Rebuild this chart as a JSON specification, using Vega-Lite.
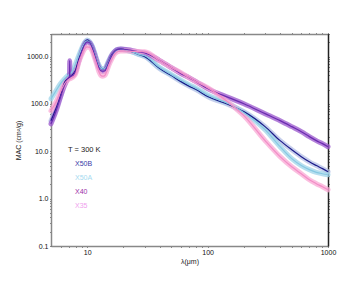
{
  "$schema": "https://vega.github.io/schema/vega-lite/v6.json",
  "width": 277,
  "height": 212,
  "autosize": {"type": "none"},
  "padding": {"left": 51, "top": 34, "right": 28, "bottom": 39},
  "config": {"font": "Liberation Sans", "view": {"stroke": null}},
  "datasets": {
    "mac": [
      {"s":"X50B","l":5,"v":44},{"s":"X50B","l":5.5,"v":80},{"s":"X50B","l":6,"v":150},{"s":"X50B","l":6.5,"v":290},{"s":"X50B","l":7,"v":350},{"s":"X50B","l":7.5,"v":410},{"s":"X50B","l":8,"v":520},{"s":"X50B","l":8.5,"v":900},{"s":"X50B","l":9,"v":1400},{"s":"X50B","l":9.5,"v":1950},{"s":"X50B","l":10,"v":2250},{"s":"X50B","l":10.5,"v":2050},{"s":"X50B","l":11,"v":1650},{"s":"X50B","l":11.5,"v":1200},{"s":"X50B","l":12,"v":850},{"s":"X50B","l":12.5,"v":650},{"s":"X50B","l":13,"v":570},{"s":"X50B","l":13.5,"v":550},{"s":"X50B","l":14,"v":560},{"s":"X50B","l":14.5,"v":650},{"s":"X50B","l":15,"v":800},{"s":"X50B","l":16,"v":1100},{"s":"X50B","l":17,"v":1320},{"s":"X50B","l":18,"v":1430},{"s":"X50B","l":19,"v":1450},{"s":"X50B","l":20,"v":1420},{"s":"X50B","l":22,"v":1330},{"s":"X50B","l":25,"v":1200},{"s":"X50B","l":27.5,"v":1080},{"s":"X50B","l":30,"v":1000},{"s":"X50B","l":40,"v":558},{"s":"X50B","l":50,"v":397},{"s":"X50B","l":60,"v":296},{"s":"X50B","l":70,"v":238},{"s":"X50B","l":80,"v":201},{"s":"X50B","l":100,"v":143},{"s":"X50B","l":150,"v":96.5},{"s":"X50B","l":200,"v":68.8},{"s":"X50B","l":300,"v":33.2},{"s":"X50B","l":400,"v":16.8},{"s":"X50B","l":500,"v":10.8},{"s":"X50B","l":600,"v":7.7},{"s":"X50B","l":700,"v":6.0},{"s":"X50B","l":800,"v":5.0},{"s":"X50B","l":900,"v":4.3},{"s":"X50B","l":1000,"v":3.7},
      {"s":"X50A","l":5,"v":128},{"s":"X50A","l":5.5,"v":190},{"s":"X50A","l":6,"v":270},{"s":"X50A","l":6.5,"v":340},{"s":"X50A","l":7,"v":410},{"s":"X50A","l":7.5,"v":480},{"s":"X50A","l":8,"v":700},{"s":"X50A","l":8.5,"v":1050},{"s":"X50A","l":9,"v":1500},{"s":"X50A","l":9.5,"v":1950},{"s":"X50A","l":10,"v":2150},{"s":"X50A","l":10.5,"v":2000},{"s":"X50A","l":11,"v":1650},{"s":"X50A","l":11.5,"v":1200},{"s":"X50A","l":12,"v":850},{"s":"X50A","l":12.5,"v":650},{"s":"X50A","l":13,"v":570},{"s":"X50A","l":13.5,"v":550},{"s":"X50A","l":14,"v":560},{"s":"X50A","l":14.5,"v":640},{"s":"X50A","l":15,"v":780},{"s":"X50A","l":16,"v":1050},{"s":"X50A","l":17,"v":1280},{"s":"X50A","l":18,"v":1400},{"s":"X50A","l":19,"v":1420},{"s":"X50A","l":20,"v":1400},{"s":"X50A","l":22,"v":1330},{"s":"X50A","l":25,"v":1200},{"s":"X50A","l":27.5,"v":1100},{"s":"X50A","l":30,"v":1040},{"s":"X50A","l":40,"v":585},{"s":"X50A","l":50,"v":416},{"s":"X50A","l":60,"v":318},{"s":"X50A","l":70,"v":256},{"s":"X50A","l":80,"v":216},{"s":"X50A","l":100,"v":155},{"s":"X50A","l":150,"v":101},{"s":"X50A","l":200,"v":65.5},{"s":"X50A","l":300,"v":28.6},{"s":"X50A","l":400,"v":12.5},{"s":"X50A","l":500,"v":7.0},{"s":"X50A","l":600,"v":5.0},{"s":"X50A","l":700,"v":4.1},{"s":"X50A","l":800,"v":3.6},{"s":"X50A","l":900,"v":3.36},{"s":"X50A","l":1000,"v":3.2},
      {"s":"X40","l":5,"v":38},{"s":"X40","l":5.5,"v":70},{"s":"X40","l":6,"v":140},{"s":"X40","l":6.5,"v":250},{"s":"X40","l":7,"v":360},{"s":"X40","l":7.12,"v":370},{"s":"X40","l":7.15,"v":820},{"s":"X40","l":7.18,"v":385},{"s":"X40","l":7.5,"v":390},{"s":"X40","l":8,"v":480},{"s":"X40","l":8.5,"v":800},{"s":"X40","l":9,"v":1250},{"s":"X40","l":9.5,"v":1800},{"s":"X40","l":10,"v":2050},{"s":"X40","l":10.5,"v":1950},{"s":"X40","l":11,"v":1550},{"s":"X40","l":11.5,"v":1100},{"s":"X40","l":12,"v":780},{"s":"X40","l":12.5,"v":580},{"s":"X40","l":13,"v":500},{"s":"X40","l":13.5,"v":490},{"s":"X40","l":14,"v":500},{"s":"X40","l":14.5,"v":590},{"s":"X40","l":15,"v":730},{"s":"X40","l":16,"v":1050},{"s":"X40","l":17,"v":1300},{"s":"X40","l":18,"v":1420},{"s":"X40","l":19,"v":1440},{"s":"X40","l":20,"v":1430},{"s":"X40","l":22,"v":1390},{"s":"X40","l":25,"v":1300},{"s":"X40","l":27.5,"v":1240},{"s":"X40","l":30,"v":1200},{"s":"X40","l":40,"v":824},{"s":"X40","l":50,"v":585},{"s":"X40","l":60,"v":437},{"s":"X40","l":70,"v":360},{"s":"X40","l":80,"v":296},{"s":"X40","l":100,"v":211},{"s":"X40","l":150,"v":136},{"s":"X40","l":200,"v":101},{"s":"X40","l":300,"v":62.4},{"s":"X40","l":400,"v":44.4},{"s":"X40","l":500,"v":33.2},{"s":"X40","l":600,"v":26},{"s":"X40","l":700,"v":20.4},{"s":"X40","l":800,"v":16.8},{"s":"X40","l":900,"v":14.5},{"s":"X40","l":1000,"v":12.5},
      {"s":"X35","l":5,"v":72},{"s":"X35","l":5.5,"v":110},{"s":"X35","l":6,"v":180},{"s":"X35","l":6.5,"v":270},{"s":"X35","l":7,"v":330},{"s":"X35","l":7.5,"v":360},{"s":"X35","l":8,"v":430},{"s":"X35","l":8.5,"v":750},{"s":"X35","l":9,"v":1100},{"s":"X35","l":9.5,"v":1450},{"s":"X35","l":10,"v":1600},{"s":"X35","l":10.5,"v":1550},{"s":"X35","l":11,"v":1300},{"s":"X35","l":11.5,"v":950},{"s":"X35","l":12,"v":680},{"s":"X35","l":12.5,"v":480},{"s":"X35","l":13,"v":400},{"s":"X35","l":13.5,"v":385},{"s":"X35","l":14,"v":400},{"s":"X35","l":14.5,"v":480},{"s":"X35","l":15,"v":620},{"s":"X35","l":16,"v":900},{"s":"X35","l":17,"v":1150},{"s":"X35","l":18,"v":1280},{"s":"X35","l":19,"v":1310},{"s":"X35","l":20,"v":1320},{"s":"X35","l":22,"v":1310},{"s":"X35","l":25,"v":1290},{"s":"X35","l":27.5,"v":1270},{"s":"X35","l":30,"v":1260},{"s":"X35","l":40,"v":824},{"s":"X35","l":50,"v":585},{"s":"X35","l":60,"v":458},{"s":"X35","l":70,"v":360},{"s":"X35","l":80,"v":296},{"s":"X35","l":100,"v":221},{"s":"X35","l":150,"v":106},{"s":"X35","l":200,"v":56.6},{"s":"X35","l":300,"v":16.8},{"s":"X35","l":400,"v":7.7},{"s":"X35","l":500,"v":4.7},{"s":"X35","l":600,"v":3.36},{"s":"X35","l":700,"v":2.51},{"s":"X35","l":800,"v":2.07},{"s":"X35","l":900,"v":1.78},{"s":"X35","l":1000,"v":1.54}
    ]
  },
  "data": {"name": "mac"},
  "layer": [
    {
      "mark": {"type": "line", "strokeWidth": 5, "opacity": 0.75, "interpolate": "monotone", "strokeCap": "round", "strokeJoin": "round"},
      "encoding": {
        "x": {"field": "l", "type": "quantitative",
          "scale": {"type": "log", "domain": [5, 1000], "nice": false},
          "axis": {"orient": "bottom", "values": [6,7,8,9,10,20,30,40,50,60,70,80,90,100,200,300,400,500,600,700,800,900,1000],
            "labelExpr": "(datum.value==10||datum.value==100||datum.value==1000) ? datum.value : ''",
            "tickSize": 1, "labelPadding": 1.5, "labelFlush": false, "labelOverlap": false, "grid": false,
            "labelFontSize": 7, "labelColor": "#111", "domainColor": "#888", "domainWidth": 1.5,
            "tickColor": "#111", "tickWidth": 1,
            "title": "λ(μm)", "titleFontSize": 7, "titleFontWeight": "normal", "titleColor": "#222", "titlePadding": 2,
            "encode": {"ticks": {"y2": {"signal": "(datum.value==10||datum.value==100||datum.value==1000) ? -8 : -4"}}}}},
        "y": {"field": "v", "type": "quantitative",
          "scale": {"type": "log", "domain": [0.1, 3000], "nice": false},
          "axis": {"orient": "left", "values": [0.1,0.2,0.3,0.4,0.5,0.6,0.7,0.8,0.9,1,2,3,4,5,6,7,8,9,10,20,30,40,50,60,70,80,90,100,200,300,400,500,600,700,800,900,1000,2000,3000],
            "labelExpr": "(datum.value==0.1||datum.value==1||datum.value==10||datum.value==100||datum.value==1000) ? format(datum.value, '.1f') : ''",
            "tickSize": 1, "labelPadding": 2, "labelFlush": false, "labelOverlap": false, "grid": false,
            "labelFontSize": 7, "labelColor": "#111", "domainColor": "#888", "domainWidth": 1.5,
            "tickColor": "#111", "tickWidth": 1,
            "title": "MAC (cm²/g)", "titleFontSize": 7, "titleFontWeight": "normal", "titleColor": "#222", "titlePadding": 5,
            "encode": {"ticks": {"x2": {"signal": "(datum.value==0.1||datum.value==1||datum.value==10||datum.value==100||datum.value==1000) ? 7 : 4"}}}}},
        "color": {"field": "s", "type": "nominal",
          "scale": {"domain": ["X50B", "X50A", "X40", "X35"], "range": ["#b4bfe6", "#9fd4ea", "#9955cc", "#f9a8d4"]},
          "legend": {"orient": "none", "legendX": 17, "legendY": 112, "padding": 0,
            "title": "T = 300 K", "titleFontSize": 7.5, "titleFontWeight": "normal", "titleColor": "#222", "titlePadding": 7.3,
            "labelFontSize": 7, "labelOffset": 0, "symbolSize": 0, "symbolOpacity": 0, "symbolStrokeWidth": 0, "rowPadding": 5.9,
            "encode": {"labels": {"update": {"fill": {"signal": "datum.value=='X50B' ? '#3a3aa8' : datum.value=='X50A' ? '#a6daf0' : datum.value=='X40' ? '#9b2fa8' : '#f0a0ee'"}}}}}}
      }
    },
    {
      "mark": {"type": "line", "strokeWidth": 1.2, "interpolate": "monotone"},
      "encoding": {
        "x": {"field": "l", "type": "quantitative",
          "scale": {"type": "log", "domain": [5, 1000], "nice": false},
          "axis": {"orient": "top", "values": [6,7,8,9,10,20,30,40,50,60,70,80,90,100,200,300,400,500,600,700,800,900,1000],
            "labels": false, "tickSize": 1, "grid": false, "title": null, "domainColor": "#888", "domainWidth": 1.5,
            "tickColor": "#111", "tickWidth": 1,
            "encode": {"ticks": {"y2": {"signal": "(datum.value==10||datum.value==100||datum.value==1000) ? 7 : 4"}}}}},
        "y": {"field": "v", "type": "quantitative",
          "scale": {"type": "log", "domain": [0.1, 3000], "nice": false},
          "axis": {"orient": "right", "values": [0.2,0.3,0.4,0.5,0.6,0.7,0.8,0.9,1,2,3,4,5,6,7,8,9,10,20,30,40,50,60,70,80,90,100,200,300,400,500,600,700,800,900,1000,2000,3000],
            "labels": false, "tickSize": 1, "grid": false, "title": null, "domainColor": "#222", "domainWidth": 1.5,
            "tickColor": "#111", "tickWidth": 1,
            "encode": {"ticks": {"x2": {"signal": "(datum.value==1||datum.value==10||datum.value==100||datum.value==1000) ? -7 : -4"}}}}},
        "stroke": {"field": "s", "type": "nominal",
          "scale": {"domain": ["X50B", "X50A", "X40", "X35"], "range": ["#1c1c8a", "#86c8e2", "#6b2bb0", "#f28cc6"]},
          "legend": null}
      }
    }
  ],
  "resolve": {"axis": {"x": "independent", "y": "independent"}}
}
